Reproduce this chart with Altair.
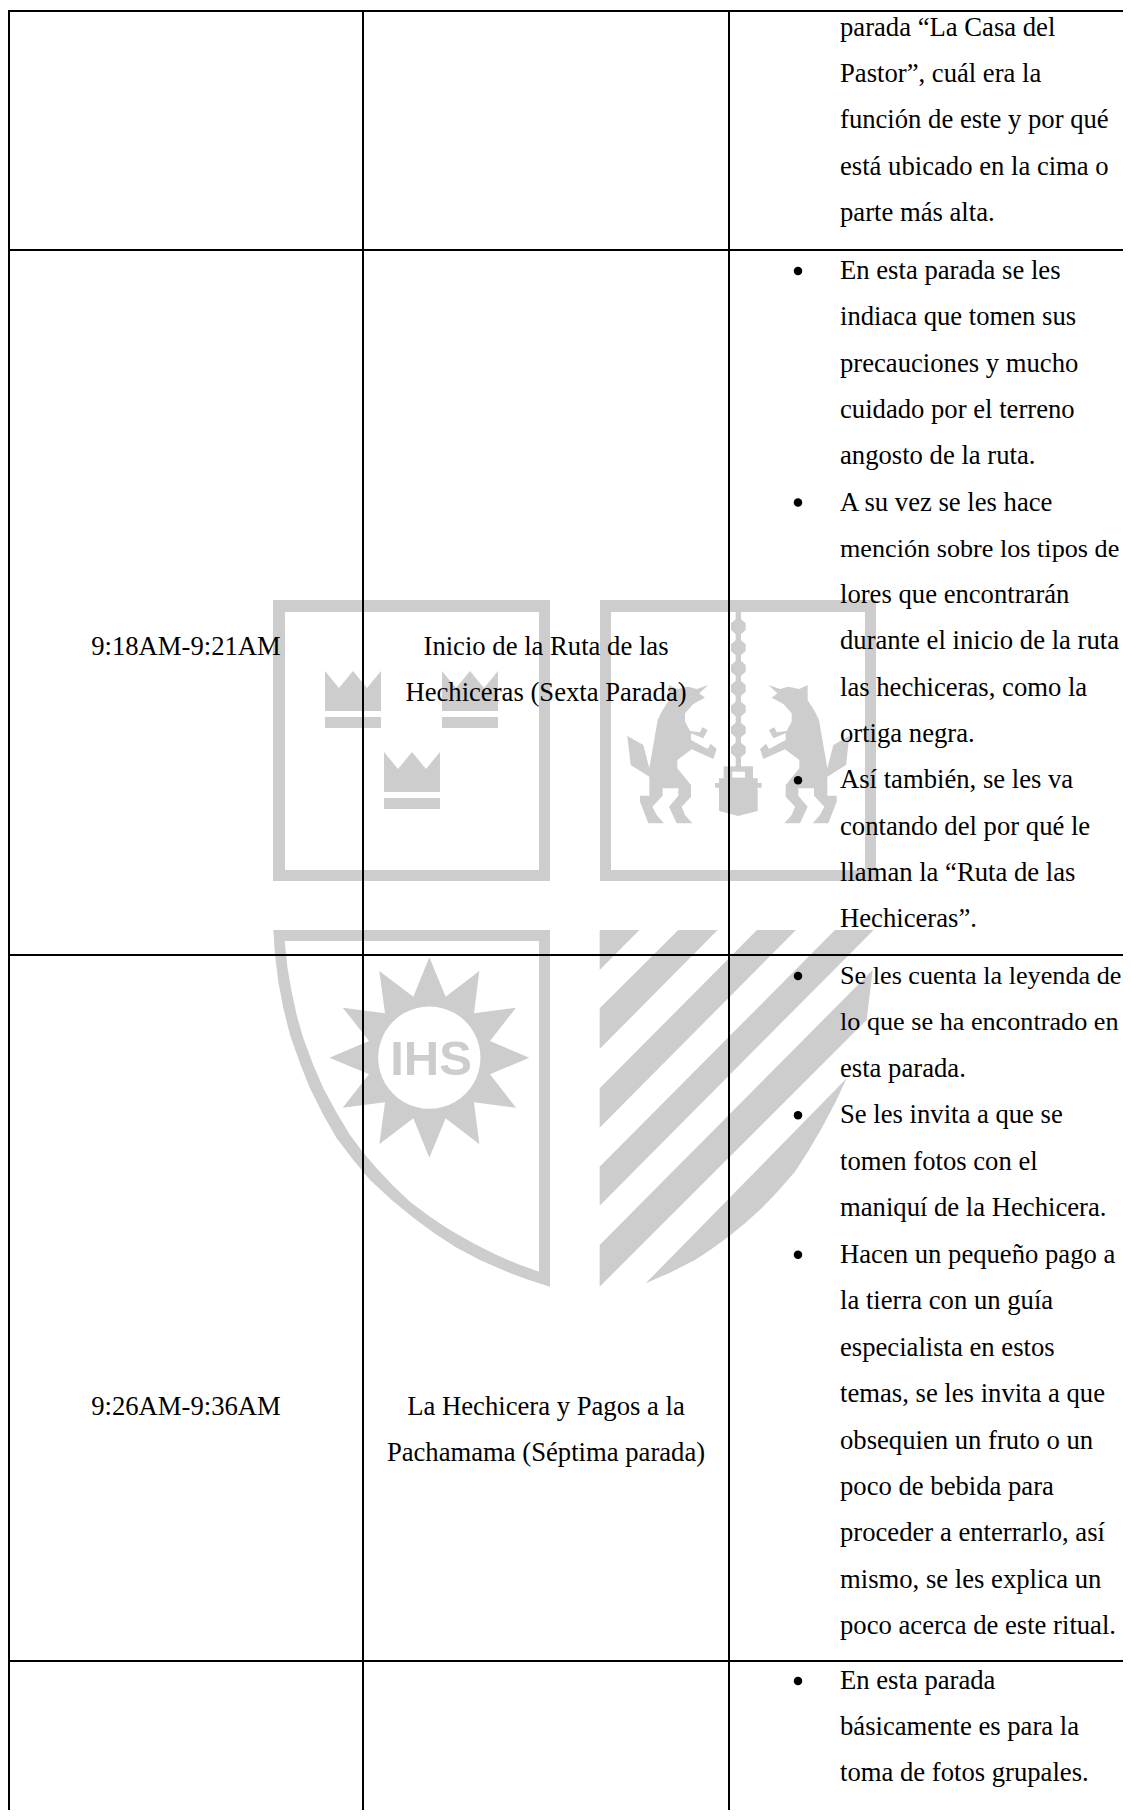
import math
import altair as alt
import pandas as pd

# ---------- table contents ----------
ROW_EDGES = [11, 250, 955, 1661]
COL_EDGES = [9, 363, 729]
PAGE_W, PAGE_H = 1123, 1810
BODY_SIZE, TIGHT_SIZE = 26.67, 26.2

COL3_ROWS = [
    (221, 46.3, [
        (False, "parada “La Casa del"),
        (False, "Pastor”, cuál era la"),
        (False, "función de este y por qué"),
        (False, "está ubicado en la cima o"),
        (False, "parte más alta."),
    ]),
    (279, 46.3, [
        (True, "En esta parada se les"),
        (False, "indiaca que tomen sus"),
        (False, "precauciones y mucho"),
        (False, "cuidado por el terreno"),
        (False, "angosto de la ruta."),
        (True, "A su vez se les hace"),
        (False, "mención sobre los tipos de"),
        (False, "lores que encontrarán"),
        (False, "durante el inicio de la ruta"),
        (False, "las hechiceras, como la"),
        (False, "ortiga negra."),
        (True, "Así también, se les va"),
        (False, "contando del por qué le"),
        (False, "llaman la “Ruta de las"),
        (False, "Hechiceras”."),
    ]),
    (984, 46.45, [
        (True, "Se les cuenta la leyenda de"),
        (False, "lo que se ha encontrado en"),
        (False, "esta parada."),
        (True, "Se les invita a que se"),
        (False, "tomen fotos con el"),
        (False, "maniquí de la Hechicera."),
        (True, "Hacen un pequeño pago a"),
        (False, "la tierra con un guía"),
        (False, "especialista en estos"),
        (False, "temas, se les invita a que"),
        (False, "obsequien un fruto o un"),
        (False, "poco de bebida para"),
        (False, "proceder a enterrarlo, así"),
        (False, "mismo, se les explica un"),
        (False, "poco acerca de este ritual."),
    ]),
    (1689, 46.0, [
        (True, "En esta parada"),
        (False, "básicamente es para la"),
        (False, "toma de fotos grupales."),
    ]),
]
TIGHT_LINES = ["Se les cuenta la leyenda de", "mención sobre los tipos de", "lo que se ha encontrado en"]
COL1_CELLS = [("9:18AM-9:21AM", 655), ("9:26AM-9:36AM", 1415)]
COL2_CELLS = [
    ("Inicio de la Ruta de las", 655),
    ("Hechiceras (Sexta Parada)", 701),
    ("La Hechicera y Pagos a la", 1415),
    ("Pachamama (Séptima parada)", 1461),
]

GREY, WHITE = "#cdcdcd", "#ffffff"

BOX_OUTER_L = [(273, 600), (550, 600), (550, 881), (273, 881)]
BOX_INNER_L = [(285, 612), (539, 612), (539, 870), (285, 870)]
BOX_OUTER_R = [(600, 600), (876, 600), (876, 881), (600, 881)]
BOX_INNER_R = [(611, 612), (865, 612), (865, 870), (611, 870)]

CROWN = [(0, 0), (14, 17), (28, 0), (42, 17), (56, 0), (56, 40), (0, 40)]
CROWN_BAR = [(0, 46), (56, 46), (56, 57), (0, 57)]
CROWN_AT = [(325, 671), (442, 671), (384, 752)]

# crop 5 coordinates, 3x, origin (270, 925)
SHIELD_OUT = [(10, 15), (840, 15), (840, 1085), (770, 1063), (700, 1036), (630, 1005), (560, 968),
              (495, 926), (430, 878), (365, 825), (300, 765), (250, 705), (200, 640), (160, 570),
              (120, 490), (90, 415), (60, 330), (40, 250), (25, 170), (15, 90)]
SHIELD_IN = [(44, 48), (807, 48), (807, 1040), (745, 1018), (680, 990), (610, 955), (540, 915),
             (480, 875), (420, 830), (370, 783), (320, 730), (280, 683), (240, 630), (200, 563),
             (160, 490), (130, 420), (100, 340), (80, 270), (65, 200), (52, 125)]
SUN = [(478, 97), (527, 215), (628, 138), (612, 265), (738, 248), (660, 348),
       (778, 398), (660, 448), (738, 548), (612, 532), (628, 658), (527, 580),
       (478, 698), (430, 580), (328, 658), (345, 532), (218, 548), (297, 448),
       (178, 398), (297, 348), (218, 248), (345, 265), (328, 138), (430, 215)]
SUN_CENTRE, SUN_HOLE_R = (478, 398), 153.5

# crop 6 coordinates, 3x, origin (595, 925)
STRIPES = [
    [(14, 15), (133, 15), (14, 135)],
    [(250, 15), (368, 15), (14, 372), (14, 250)],
    [(486, 15), (603, 15), (14, 608), (14, 490)],
    [(720, 15), (836, 15), (14, 842), (14, 725)],
    [(833, 135), (815, 285), (14, 1085), (14, 960)],
    [(755, 460), (720, 535), (680, 610), (640, 678), (600, 740), (550, 797), (500, 850),
     (450, 895), (400, 935), (350, 972), (300, 1005), (225, 1043), (152, 1075)],
]

# crop 7 coordinates, 3x, origin (615, 605)
WOLF = [(280, 240), (245, 252), (220, 245), (187, 252), (162, 240), (162, 285), (140, 320),
        (128, 345), (115, 420), (103, 490), (85, 420), (37, 393), (47, 480), (103, 515),
        (103, 572), (75, 572), (75, 590), (100, 655), (147, 655), (125, 630), (112, 605),
        (143, 572), (143, 550), (190, 550), (190, 572), (162, 605), (185, 655), (232, 655),
        (210, 630), (200, 605), (228, 575), (228, 540), (187, 490), (187, 465), (230, 433),
        (295, 462), (305, 432), (287, 416), (278, 432), (228, 405), (228, 385), (265, 400),
        (278, 375), (262, 367), (255, 382), (225, 378), (210, 350), (210, 325), (235, 297),
        (270, 278), (253, 265)]
CHAIN_STEM = [(362, 20), (378, 20), (378, 490), (362, 490)]
BEAD_CENTRES = [65, 128, 190, 250, 312, 375, 435]
WEIGHT_TOP = [(326, 484), (414, 484), (414, 525), (326, 525)]
WEIGHT_SLOT = [(352, 500), (390, 500), (390, 518), (352, 518)]
WEIGHT = [(300, 534), (312, 534), (312, 520), (428, 520), (428, 534), (440, 534), (440, 548),
          (428, 548), (428, 618), (370, 633), (312, 618), (312, 548), (300, 548)]


def crop(points, ox, oy):
    return [(ox + x / 3, oy + y / 3) for x, y in points]


def shift(points, dx, dy):
    return [(x + dx, y + dy) for x, y in points]


def feature(points, fill):
    ring = [[round(x - 8, 2), round(y - 8, 2)] for x, y in points]
    ring.append(ring[0])
    return {"type": "Feature", "properties": {"fill": fill},
            "geometry": {"type": "Polygon", "coordinates": [ring]}}


shapes = [
    feature(BOX_OUTER_L, GREY), feature(BOX_INNER_L, WHITE),
    feature(BOX_OUTER_R, GREY), feature(BOX_INNER_R, WHITE),
]
for cx, cy in CROWN_AT:
    shapes.append(feature(shift(CROWN, cx, cy), GREY))
    shapes.append(feature(shift(CROWN_BAR, cx, cy), GREY))
shapes.append(feature(crop(SHIELD_OUT, 270, 925), GREY))
shapes.append(feature(crop(SHIELD_IN, 270, 925), WHITE))
shapes.append(feature(crop(SUN, 270, 925), GREY))
hole = [(SUN_CENTRE[0] + SUN_HOLE_R * math.cos(a * math.pi / 24),
         SUN_CENTRE[1] + SUN_HOLE_R * math.sin(a * math.pi / 24)) for a in range(48)]
shapes.append(feature(crop(hole, 270, 925), WHITE))
for s in STRIPES:
    shapes.append(feature(crop(s, 595, 925), GREY))
shapes.append(feature(crop(WOLF, 615, 605), GREY))
shapes.append(feature(crop([(740 - x, y) for x, y in WOLF], 615, 605), GREY))
shapes.append(feature(crop(CHAIN_STEM, 615, 605), GREY))
for yc in BEAD_CENTRES:
    bead = [(362, yc - 22), (378, yc - 22), (392, yc - 10), (392, yc + 10),
            (378, yc + 22), (362, yc + 22), (348, yc + 10), (348, yc - 10)]
    shapes.append(feature(crop(bead, 615, 605), GREY))
shapes.append(feature(crop(WEIGHT_TOP, 615, 605), GREY))
shapes.append(feature(crop(WEIGHT_SLOT, 615, 605), WHITE))
shapes.append(feature(crop(WEIGHT, 615, 605), GREY))

# ---------- tables for the marks ----------
left_rows, bullets = [], []
for start, pitch, lines in COL3_ROWS:
    if start == 221:
        start = start - (len(lines) - 1) * pitch   # the first row is anchored on its last line
    for i, (has_bullet, txt) in enumerate(lines):
        yy = start + i * pitch
        size = TIGHT_SIZE if txt in TIGHT_LINES else BODY_SIZE
        left_rows.append({"x": 840, "y": yy, "t": txt, "s": size})
        if has_bullet:
            bullets.append({"x": 798, "y": yy - 8})
centre_rows = [{"x": 186, "y": y, "t": t} for t, y in COL1_CELLS] + \
              [{"x": 546, "y": y, "t": t} for t, y in COL2_CELLS]
h_rules = pd.DataFrame({"x": [8] * len(ROW_EDGES), "x2": [PAGE_W] * len(ROW_EDGES), "y": ROW_EDGES})
v_rules = pd.DataFrame({"x": COL_EDGES, "y": [10] * len(COL_EDGES), "y2": [PAGE_H] * len(COL_EDGES)})

X = alt.X("x:Q", axis=None, scale=alt.Scale(domain=[8, PAGE_W], nice=False, zero=False))
Y = alt.Y("y:Q", axis=None, scale=alt.Scale(domain=[PAGE_H, 8], nice=False, zero=False))
FONT = "Liberation Serif"

watermark = alt.Chart(alt.Data(values=shapes)).mark_geoshape(strokeWidth=0).encode(
    color=alt.Color("properties.fill:N", scale=None, legend=None)
).project(type="identity", scale=1, translate=[0, 0])

ihs = alt.Chart(pd.DataFrame([{"x": 431, "y": 1075, "t": "IHS"}])).mark_text(
    font="Liberation Sans", fontWeight="bold", fontSize=49, color=GREY, align="center", baseline="alphabetic"
).encode(x=X, y=Y, text="t:N")

hl = alt.Chart(h_rules).mark_rule(color="black", strokeWidth=2).encode(x=X, x2="x2:Q", y=Y)
vl = alt.Chart(v_rules).mark_rule(color="black", strokeWidth=2).encode(x=X, y=Y, y2="y2:Q")

left_text = alt.Chart(pd.DataFrame(left_rows)).mark_text(
    font=FONT, color="black", align="left", baseline="alphabetic"
).encode(x=X, y=Y, text="t:N", size=alt.Size("s:Q", scale=None, legend=None))
centre_text = alt.Chart(pd.DataFrame(centre_rows)).mark_text(
    font=FONT, fontSize=BODY_SIZE, color="black", align="center", baseline="alphabetic"
).encode(x=X, y=Y, text="t:N")
dots = alt.Chart(pd.DataFrame(bullets)).mark_circle(color="black", opacity=1, size=72).encode(x=X, y=Y)

chart = alt.layer(watermark, ihs, hl, vl, dots, left_text, centre_text).properties(
    width=PAGE_W - 8, height=PAGE_H - 8, padding=0,
    autosize=alt.AutoSizeParams(type="none", contains="padding")
).configure_view(stroke=None)

chart.save("out.html", embed_options={"renderer": "svg", "actions": False})
